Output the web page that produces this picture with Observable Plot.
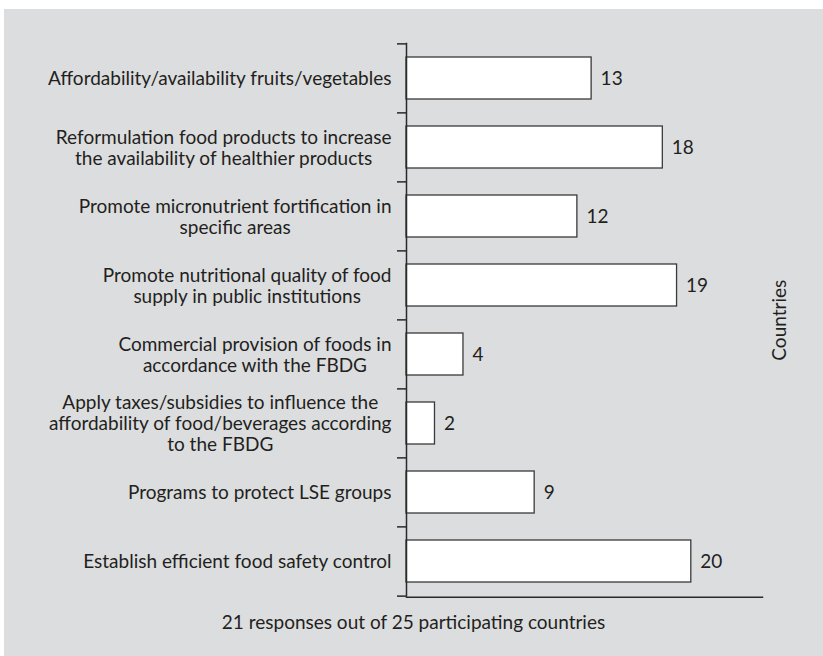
<!DOCTYPE html>
<html>
<head>
<meta charset="utf-8">
<script src="https://cdn.jsdelivr.net/npm/d3@7"></script>
<script src="https://cdn.jsdelivr.net/npm/@observablehq/plot@0.6"></script>
<style>
  html, body { margin: 0; padding: 0; background: #ffffff; }
  body { width: 823px; height: 656px; position: relative; overflow: hidden; font-family: "Lato", sans-serif; }
  #panel { position: absolute; left: 4px; top: 9px; right: 0; bottom: 0; background: #dcdddf; }
  #chart { position: absolute; left: 0; top: 0; }
  #caption { position: absolute; left: 4px; right: 0; top: 611px; text-align: center; font-size: 19px; line-height: 22px; color: #231f20; }
</style>
</head>
<body>
<div id="panel"></div>
<div id="chart"></div>
<div id="caption"></div>
<script>
const categories = [
  "Affordability/availability fruits/vegetables",
  "Reformulation food products to increase\nthe availability of healthier products",
  "Promote micronutrient fortification in\nspecific areas",
  "Promote nutritional quality of food\nsupply in public institutions",
  "Commercial provision of foods in\naccordance with the FBDG",
  "Apply taxes/subsidies to influence the\naffordability of food/beverages according\nto the FBDG",
  "Programs to protect LSE groups",
  "Establish efficient food safety control"
];
const values = [13, 18, 12, 19, 4, 2, 9, 20];
const xDomain = [0, 25];
const axisTitle = "Countries";
const captionText = "21 responses out of 25 participating countries";

const data = categories.map((c, i) => ({category: c, value: values[i]}));

const W = 823, H = 610;
const mTop = 42.7, mBottom = H - 596.7, mLeft = 406, mRight = W - 762;
const step = (H - mTop - mBottom) / categories.length;
const pad = 1 - 42 / step;
const ink = "#231f20";
const fs = 19;

const chart = Plot.plot({
  width: W,
  height: H,
  marginTop: mTop,
  marginBottom: mBottom,
  marginLeft: mLeft,
  marginRight: mRight,
  style: {background: "transparent", fontFamily: "Lato", fontSize: fs + "px", color: ink},
  x: {domain: xDomain, axis: null},
  y: {domain: categories, paddingInner: pad, paddingOuter: pad / 2, label: null},
  marks: [
    Plot.barX(data, {x: "value", y: "category", fill: "white", stroke: "#3a3a3a", strokeWidth: 1.3}),
    Plot.axisY({tickSize: 9, tickFormat: () => "", dy: -step / 2, stroke: "#2a2a2a", strokeWidth: 1.5}),
    Plot.axisY([categories[categories.length - 1]], {tickSize: 9, tickFormat: () => "", dy: step / 2, stroke: "#2a2a2a", strokeWidth: 1.5}),
    Plot.axisY({tickSize: 0, tickPadding: 15, fontSize: fs, lineHeight: 1.1, textAnchor: "end", fill: ink}),
    Plot.ruleX([0], {stroke: "#2a2a2a", strokeWidth: 1.5}),
    Plot.frame({anchor: "bottom", stroke: "#2a2a2a", strokeWidth: 1.5}),
    Plot.text(data, {x: "value", y: "category", text: d => String(d.value), dx: 9, textAnchor: "start", fontSize: fs, fill: ink}),
    Plot.text([axisTitle], {frameAnchor: "right", rotate: -90, dx: 17, textAnchor: "middle", fontSize: fs, fill: ink})
  ]
});

document.getElementById("chart").append(chart);
document.getElementById("caption").textContent = captionText;

// center multi-line tick labels within their right-aligned block
chart.querySelectorAll('g[aria-label="y-axis tick label"] text').forEach(t => {
  const spans = Array.from(t.querySelectorAll("tspan"));
  if (spans.length < 2) return;
  const widths = spans.map(s => s.getComputedTextLength());
  const maxW = Math.max(...widths);
  t.setAttribute("text-anchor", "middle");
  spans.forEach(s => s.setAttribute("x", -maxW / 2));
});
</script>
</body>
</html>
